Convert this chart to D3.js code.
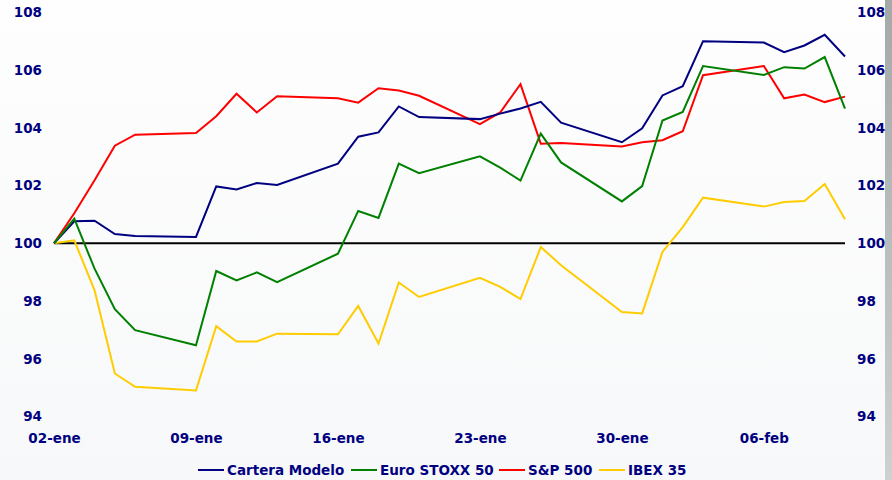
<!DOCTYPE html>
<html>
<head>
<meta charset="utf-8">
<script src="https://cdn.jsdelivr.net/npm/d3@7"></script>
<style>
  html, body { margin: 0; padding: 0; background: #fbfbfb; }
  svg { display: block; }
</style>
</head>
<body>
<svg id="chart" width="892" height="480"></svg>
<script>
// ---- Data ----
const dates = [
  "2012-01-02","2012-01-03","2012-01-04","2012-01-05","2012-01-06",
  "2012-01-09","2012-01-10","2012-01-11","2012-01-12","2012-01-13",
  "2012-01-16","2012-01-17","2012-01-18","2012-01-19","2012-01-20",
  "2012-01-23","2012-01-24","2012-01-25","2012-01-26","2012-01-27",
  "2012-01-30","2012-01-31","2012-02-01","2012-02-02","2012-02-03",
  "2012-02-06","2012-02-07","2012-02-08","2012-02-09","2012-02-10"
];
const carteraModelo = [
  100, 100.76, 100.78, 100.32, 100.25,
  100.22, 101.97, 101.86, 102.09, 102.02,
  102.76, 103.69, 103.84, 104.74, 104.37,
  104.30, 104.49, 104.67, 104.90, 104.18,
  103.50, 103.98, 105.12, 105.44, 107.00,
  106.95, 106.62, 106.85, 107.22, 106.47
];
const euroStoxx50 = [
  100, 100.85, 99.12, 97.72, 96.99,
  96.47, 99.04, 98.71, 98.99, 98.65,
  99.64, 101.12, 100.88, 102.76, 102.43,
  103.01, 102.62, 102.17, 103.80, 102.80,
  101.45, 101.98, 104.25, 104.55, 106.14,
  105.83, 106.10, 106.05, 106.45, 104.66
];
const sp500 = [
  100, 101.04, 102.18, 103.38, 103.76,
  103.82, 104.40, 105.18, 104.53, 105.09,
  105.02, 104.87, 105.37, 105.29, 105.11,
  104.13, 104.53, 105.51, 103.45, 103.47,
  103.35, 103.50, 103.57, 103.88, 105.82,
  106.14, 105.02, 105.15, 104.89, 105.08
];
const ibex35 = [
  100, 100.10, 98.37, 95.49, 95.03,
  94.90, 97.13, 96.60, 96.60, 96.87,
  96.85, 97.83, 96.53, 98.64, 98.14,
  98.80, 98.49, 98.07, 99.87, 99.24,
  97.62, 97.57, 99.70, 100.56, 101.58,
  101.27, 101.43, 101.46, 102.05, 100.83
];
const yTicks = [94, 96, 98, 100, 102, 104, 106, 108];
const xTickDates = ["2012-01-02","2012-01-09","2012-01-16","2012-01-23","2012-01-30","2012-02-06"];
const xTickLabels = ["02-ene","09-ene","16-ene","23-ene","30-ene","06-feb"];
const seriesNames = ["Cartera Modelo", "Euro STOXX 50", "S&P 500", "IBEX 35"];
const seriesColors = ["#000080", "#008000", "#ff0000", "#ffcc00"];
const seriesValues = [carteraModelo, euroStoxx50, sp500, ibex35];

// ---- Drawing ----
const svg = d3.select("#chart");
const W = 892, H = 480;
const parse = d3.utcParse("%Y-%m-%d");
const dts = dates.map(parse);

const defs = svg.append("defs");
const bg = defs.append("linearGradient").attr("id", "bg").attr("x1", 0).attr("y1", 0).attr("x2", 0).attr("y2", 1);
bg.append("stop").attr("offset", "0%").attr("stop-color", "#fefefe");
bg.append("stop").attr("offset", "100%").attr("stop-color", "#f7f8f9");
const gs = defs.append("linearGradient").attr("id", "strip").attr("x1", 0).attr("y1", 0).attr("x2", 0).attr("y2", 1);
gs.append("stop").attr("offset", "0%").attr("stop-color", "#a4a9a8");
gs.append("stop").attr("offset", "100%").attr("stop-color", "#cdd1d1");

svg.append("rect").attr("width", W).attr("height", H).attr("fill", "url(#bg)");
svg.append("rect").attr("x", 885).attr("y", 0).attr("width", 7).attr("height", H).attr("fill", "url(#strip)");

const x = d3.scaleUtc().domain([dts[0], dts[dts.length - 1]]).range([54, 845]);
const y = d3.scaleLinear().domain([94, 108]).range([416.5, 12.3]);

const font = "'DejaVu Sans', Verdana, sans-serif";
const fs = 13.5;
const textColor = "#000080";

// Y axes (left and right), no domain lines or ticks
const yLeft = svg.append("g").attr("transform", "translate(42,0)")
  .call(d3.axisLeft(y).tickValues(yTicks).tickSize(0).tickPadding(0).tickFormat(d3.format("d")));
const yRight = svg.append("g").attr("transform", "translate(857,0)")
  .call(d3.axisRight(y).tickValues(yTicks).tickSize(0).tickPadding(0).tickFormat(d3.format("d")));
[yLeft, yRight].forEach(g => {
  g.select(".domain").remove();
  g.selectAll("text").attr("font-family", font).attr("font-size", fs).attr("font-weight", "bold").attr("fill", textColor);
});

// X axis
const xAxis = svg.append("g").attr("transform", "translate(0,433)")
  .call(d3.axisBottom(x).tickValues(xTickDates.map(parse)).tickSize(0).tickPadding(0)
    .tickFormat((d, i) => xTickLabels[i]));
xAxis.select(".domain").remove();
xAxis.selectAll("text").attr("font-family", font).attr("font-size", fs).attr("font-weight", "bold").attr("fill", textColor);

// Baseline at 100
svg.append("line")
  .attr("x1", x(dts[0])).attr("x2", x(dts[dts.length - 1]))
  .attr("y1", y(100)).attr("y2", y(100))
  .attr("stroke", "#000").attr("stroke-width", 2);

// Lines
const line = d3.line().x((d, i) => x(dts[i])).y(d => y(d));
[3, 2, 0, 1].forEach(k => {
  svg.append("path")
    .datum(seriesValues[k])
    .attr("d", line)
    .attr("fill", "none")
    .attr("stroke", seriesColors[k])
    .attr("stroke-width", 2)
    .attr("stroke-linejoin", "miter");
});

// Legend
const legend = svg.append("g").attr("transform", "translate(0,470)");
const legendX = [198, 351, 499, 599];
seriesNames.forEach((name, i) => {
  const g = legend.append("g").attr("transform", `translate(${legendX[i]},0)`);
  g.append("line").attr("x1", 0).attr("x2", 26).attr("y1", 0).attr("y2", 0)
    .attr("stroke", seriesColors[i]).attr("stroke-width", 2);
  g.append("text").attr("x", 29).attr("y", 0).attr("dy", "0.35em")
    .attr("font-family", font).attr("font-size", fs).attr("font-weight", "bold")
    .attr("fill", textColor).text(name);
});
</script>
</body>
</html>
